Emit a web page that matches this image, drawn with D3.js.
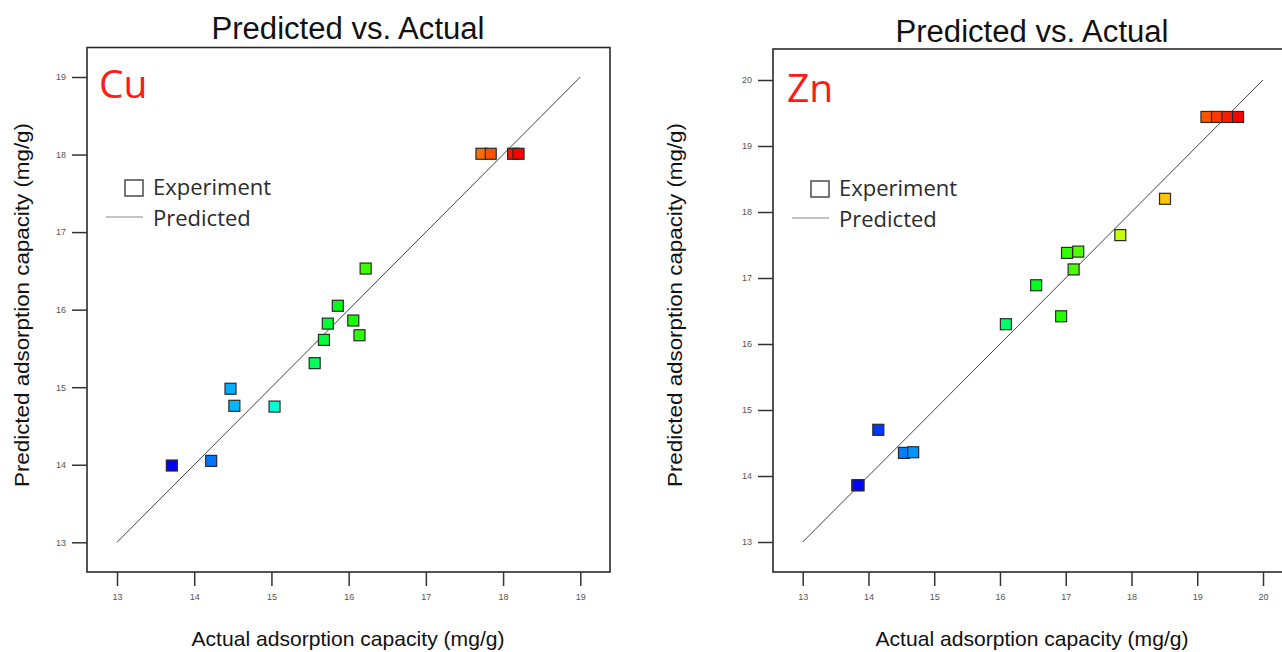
<!DOCTYPE html>
<html lang="en">
<head>
    <meta charset="UTF-8">
    <title>Predicted vs. Actual</title>
    <script src="https://d3js.org/d3.v7.min.js"></script>
    <style>
        body { margin: 0; background: #fff; }
        svg { display: block; }
        .tick text { font-family: "Liberation Sans", Arial, sans-serif; font-size: 9px; fill: #555; }
        .tick line { stroke: #333; stroke-width: 1.5; }
    </style>
</head>
<body>
<div id="chart"></div>
<script>
    const width = 1282;
    const height = 652;

    // Cu panel data
    const cuActual    = [13.71, 14.22, 14.47, 14.52, 15.04, 15.56, 15.68, 15.73, 15.86, 16.06, 16.14, 16.22, 17.72, 17.84, 18.13, 18.20];
    const cuPredicted = [13.99, 14.05, 14.98, 14.76, 14.75, 15.31, 15.61, 15.82, 16.05, 15.86, 15.67, 16.53, 18.01, 18.01, 18.01, 18.01];
    const cuTicks = [13, 14, 15, 16, 17, 18, 19];

    // Zn panel data
    const znActual    = [13.83, 13.85, 14.15, 14.54, 14.68, 16.09, 16.55, 16.93, 17.02, 17.19, 17.12, 17.83, 18.51, 19.14, 19.30, 19.46, 19.62];
    const znPredicted = [13.86, 13.86, 14.70, 14.35, 14.36, 16.30, 16.89, 16.42, 17.38, 17.40, 17.13, 17.65, 18.20, 19.44, 19.44, 19.44, 19.44];
    const znTicks = [13, 14, 15, 16, 17, 18, 19, 20];

    const svg = d3.select("#chart")
        .append("svg")
        .attr("width", width)
        .attr("height", height);

    function drawPanel(p) {
        const g = svg.append("g");

        const x = d3.scaleLinear().domain(d3.extent(p.ticks)).range([p.x0, p.x1]);
        const y = d3.scaleLinear().domain(d3.extent(p.ticks)).range([p.y0, p.y1]);

        // colour by actual value, blue -> red
        const hue = d3.scaleLinear().domain(d3.extent(p.actual)).range([240, 0]);

        // frame
        g.append("rect")
            .attr("x", p.fx).attr("y", p.fy)
            .attr("width", p.fw).attr("height", p.fh)
            .attr("fill", "none")
            .attr("stroke", "#2a2a2a")
            .attr("stroke-width", 1.6);

        // axes
        g.append("g")
            .attr("transform", `translate(0,${p.fy + p.fh})`)
            .call(d3.axisBottom(x).tickValues(p.ticks).tickFormat(d3.format("d"))
                .tickSize(14).tickPadding(8).tickSizeOuter(0))
            .call(a => a.select(".domain").remove());

        g.append("g")
            .attr("transform", `translate(${p.fx},0)`)
            .call(d3.axisLeft(y).tickValues(p.ticks).tickFormat(d3.format("d"))
                .tickSize(15).tickPadding(6).tickSizeOuter(0))
            .call(a => a.select(".domain").remove());

        // predicted line (y = x)
        const lo = d3.min(p.ticks), hi = d3.max(p.ticks);
        g.append("line")
            .attr("x1", x(lo)).attr("y1", y(lo))
            .attr("x2", x(hi)).attr("y2", y(hi))
            .attr("stroke", "#444")
            .attr("stroke-width", 1);

        // experiment points
        const s = 11;
        g.selectAll("rect.pt")
            .data(p.actual.map((a, i) => ({ a: a, p: p.predicted[i] })))
            .enter()
            .append("rect")
            .attr("class", "pt")
            .attr("x", d => x(d.a) - s / 2)
            .attr("y", d => y(d.p) - s / 2)
            .attr("width", s)
            .attr("height", s)
            .attr("fill", d => d3.hsl(hue(d.a), 1, 0.5))
            .attr("stroke", "#2a2a2a")
            .attr("stroke-width", 1.2);

        // title
        g.append("text")
            .attr("x", p.titleX).attr("y", p.titleY)
            .attr("text-anchor", "middle")
            .attr("textLength", 273)
            .attr("lengthAdjust", "spacingAndGlyphs")
            .style("font-family", "'Liberation Sans', Arial, sans-serif")
            .style("font-size", "31px")
            .attr("fill", "#111")
            .text("Predicted vs. Actual");

        // metal label
        g.append("text")
            .attr("x", p.labelX).attr("y", p.labelY)
            .style("font-family", "'Open Sans', sans-serif")
            .style("font-size", "39px")
            .attr("fill", "#ff1a1a")
            .text(p.label);

        // legend
        g.append("rect")
            .attr("x", p.legX).attr("y", p.legY)
            .attr("width", 18).attr("height", 16)
            .attr("fill", "none")
            .attr("stroke", "#555")
            .attr("stroke-width", 1.6);
        g.append("line")
            .attr("x1", p.legX - 19).attr("x2", p.legX + 18)
            .attr("y1", p.legY + 37).attr("y2", p.legY + 37)
            .attr("stroke", "#888")
            .attr("stroke-width", 1.2);
        g.append("text")
            .attr("x", p.legX + 28).attr("y", p.legY + 15)
            .style("font-family", "'Open Sans', sans-serif")
            .style("font-size", "22px")
            .attr("fill", "#2b2b2b")
            .text("Experiment");
        g.append("text")
            .attr("x", p.legX + 28).attr("y", p.legY + 46)
            .style("font-family", "'Open Sans', sans-serif")
            .style("font-size", "22px")
            .attr("fill", "#2b2b2b")
            .text("Predicted");

        // axis titles
        g.append("text")
            .attr("x", p.titleX).attr("y", 646)
            .attr("text-anchor", "middle")
            .attr("textLength", 313)
            .attr("lengthAdjust", "spacingAndGlyphs")
            .style("font-family", "'Liberation Sans', Arial, sans-serif")
            .style("font-size", "21px")
            .attr("fill", "#111")
            .text("Actual adsorption capacity (mg/g)");

        g.append("text")
            .attr("transform", `translate(${p.yLabX},305) rotate(-90)`)
            .attr("text-anchor", "middle")
            .attr("textLength", 364)
            .attr("lengthAdjust", "spacingAndGlyphs")
            .style("font-family", "'Liberation Sans', Arial, sans-serif")
            .style("font-size", "21px")
            .attr("fill", "#111")
            .text("Predicted adsorption capacity (mg/g)");
    }

    drawPanel({
        actual: cuActual, predicted: cuPredicted, ticks: cuTicks, label: "Cu",
        x0: 117, x1: 580.3, y0: 542.3, y1: 77,
        fx: 87, fy: 47.5, fw: 523, fh: 524.5,
        titleX: 348, titleY: 39,
        labelX: 99, labelY: 98,
        legX: 125, legY: 180,
        yLabX: 29
    });

    drawPanel({
        actual: znActual, predicted: znPredicted, ticks: znTicks, label: "Zn",
        x0: 802.7, x1: 1263, y0: 542, y1: 80,
        fx: 773, fy: 49, fw: 520, fh: 523,
        titleX: 1032, titleY: 42,
        labelX: 787, labelY: 102,
        legX: 811, legY: 181,
        yLabX: 682
    });
</script>
</body>
</html>
